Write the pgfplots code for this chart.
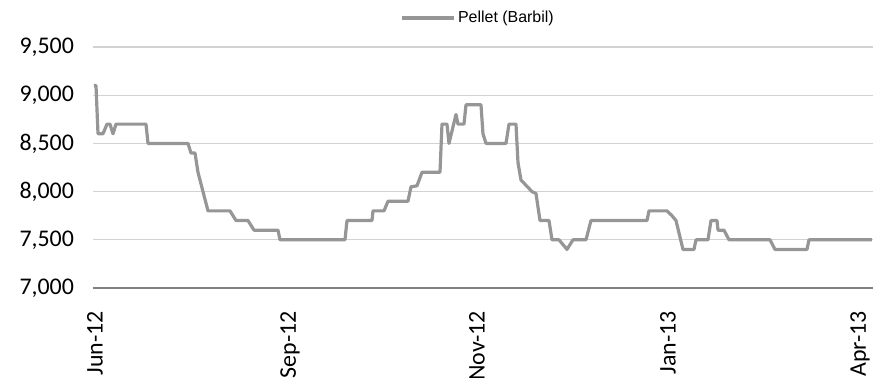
\documentclass[border=0pt]{standalone}
\usepackage{pgfplots}
\pgfplotsset{compat=1.18}
\usepackage{fontspec}
\setmainfont{Carlito}
\newfontfamily\legfont{Liberation Sans}
\definecolor{lineg}{RGB}{150,150,150}
\definecolor{gridg}{RGB}{210,210,210}
\definecolor{axisg}{RGB}{128,128,128}
\begin{document}
\begin{tikzpicture}
\begin{axis}[
  at={(0,0)}, anchor=south west, scale only axis,
  width=390bp, height=120.5bp,
  xmin=-1, xmax=779, ymin=7000, ymax=9500,
  ytick={7000,7500,...,9500},
  xtick={1,196,383,574,766},
  xticklabels={Jun-12,Sep-12,Nov-12,Jan-13,Apr-13},
  x tick label style={rotate=90, anchor=east, xshift=-8bp, font=\fontsize{12}{14}\selectfont},
  y tick label style={xshift=-6bp, font=\fontsize{12}{14}\selectfont},
  /pgf/number format/assume math mode=true,
  /pgf/number format/1000 sep={,},
  scaled y ticks=false,
  ymajorgrids, grid style={gridg, line width=0.6bp},
  axis x line*=bottom, axis y line*=left,
  y axis line style={draw=none},
  x axis line style={axisg, line width=0.8bp, -},
  major tick length=0pt, tick style={draw=none},
  legend style={at={(0.494,1.12)}, anchor=center, draw=none, fill=none,
    font=\legfont\fontsize{8}{9}\selectfont, inner sep=0pt,
    nodes={inner sep=1bp}},
  legend image code/.code={\draw[#1] (0bp,0bp) -- (26bp,0bp);},
]
\addplot[lineg, line width=1.6bp, line join=round] table {
x y
0 9100
2 9100
4 8600
9 8600
13 8700
16 8700
19 8600
22 8700
52 8700
54 8500
94 8500
97 8400
101 8400
104 8200
114 7800
136 7800
142 7700
154 7700
160 7600
184 7600
186 7500
251 7500
253 7700
278 7700
279 7800
290 7800
294 7900
314 7900
317 8050
323 8060
328 8200
346 8200
348 8700
353 8700
355 8500
362 8800
364 8700
370 8700
372 8900
387 8900
389 8600
392 8500
412 8500
415 8700
422 8700
424 8300
427 8120
438 8000
442 7980
446 7700
455 7700
458 7500
465 7500
473 7400
479 7500
492 7500
497 7700
553 7700
555 7800
573 7800
578 7750
582 7700
589 7400
600 7400
602 7500
614 7500
617 7700
623 7700
624 7600
630 7600
635 7500
676 7500
681 7400
713 7400
715 7500
778 7500
};
\addlegendentry{Pellet (Barbil)}
\end{axis}
\pgfresetboundingbox
\path (-46.5bp,-45bp) rectangle (397bp,144bp);
\end{tikzpicture}
\end{document}
